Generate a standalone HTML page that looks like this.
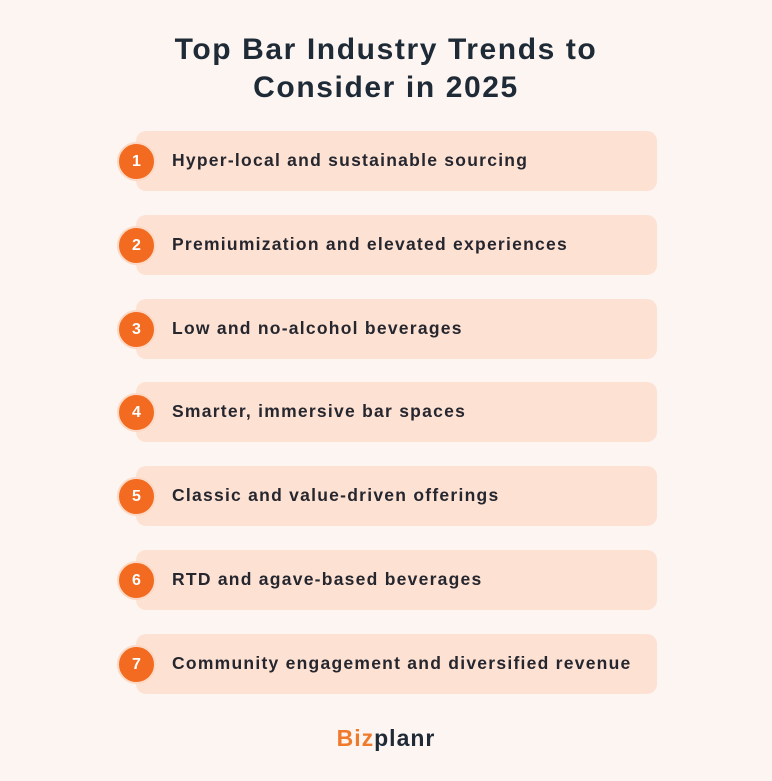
<!DOCTYPE html>
<html><head><meta charset="utf-8"><style>
body{margin:0;width:772px;height:781px;background:#fdf5f1;font-family:"Liberation Sans",sans-serif;position:relative;overflow:hidden}
h1{position:absolute;top:31px;left:0;width:772px;margin:0;text-align:center;font-size:30px;line-height:38px;color:#1f2a37;font-weight:bold;letter-spacing:1.6px}
.card{position:absolute;left:136px;width:521px;height:60px;background:#fde2d4;border-radius:10px}
.num{position:absolute;left:-19px;top:11px;width:35px;height:35px;border-radius:50%;background:#f26b21;border:2px solid #fcd9c4;color:#fff;font-weight:bold;font-size:16px;text-align:center;line-height:35px}
.txt{position:absolute;left:36px;top:0;line-height:58px;font-size:17.5px;font-weight:bold;color:#26262e;letter-spacing:1.25px}
.logo{position:absolute;top:725px;left:0;width:772px;text-align:center;font-size:23px;font-weight:bold;color:#1f2a37;letter-spacing:1px}
.logo span{color:#f07a2c}
</style></head><body>
<h1>Top Bar Industry Trends to<br>Consider in 2025</h1>
<div id="list"></div>
<div class="logo"><span>Biz</span>planr</div>
<script>
const items=["Hyper-local and sustainable sourcing","Premiumization and elevated experiences","Low and no-alcohol beverages","Smarter, immersive bar spaces","Classic and value-driven offerings","RTD and agave-based beverages","Community engagement and diversified revenue"];
const list=document.getElementById('list');
items.forEach((t,i)=>{
const c=document.createElement('div');c.className='card';c.style.top=(131+i*83.8)+'px';


const n=document.createElement('div');n.className='num';n.textContent=i+1;


const x=document.createElement('div');x.className='txt';x.textContent=t;


c.appendChild(n);c.appendChild(x);list.appendChild(c);});
</script>
</body></html>
